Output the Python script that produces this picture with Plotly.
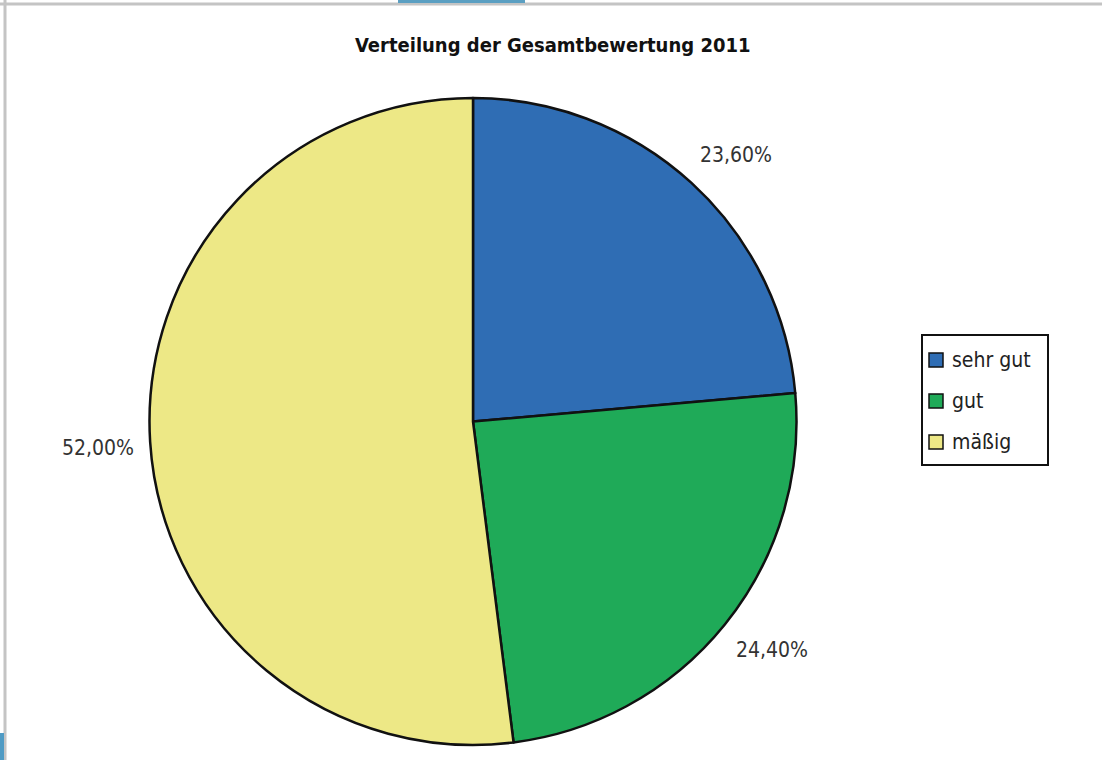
import plotly.graph_objects as go

categories = ["sehr gut", "gut", "mäßig"]
values = [23.6, 24.4, 52.0]
colors = ["#2f6db4", "#1faa58", "#ede886"]
title_text = "Verteilung der Gesamtbewertung 2011"

W, H = 1102, 760
cx, cy, r = 473, 421.5, 323.5
COND = "DejaVu Sans Condensed, Liberation Sans Narrow, sans-serif"


def px(x):
    return x / W


def py(y):
    return 1 - y / H


fig = go.Figure()
fig.add_trace(go.Pie(
    labels=categories,
    values=values,
    sort=False,
    direction="clockwise",
    rotation=0,
    marker=dict(colors=colors, line=dict(color="#111111", width=2.5)),
    textinfo="none",
    hoverinfo="label+percent",
    showlegend=False,
    domain=dict(x=[px(cx - r), px(cx + r)], y=[py(cy + r), py(cy - r)]),
))


def fmt(v):
    return f"{v:.2f}".replace(".", ",") + "%"


label_pos = [(736, 155), (772, 650), (98, 448)]
annotations = []
for v, (x, y) in zip(values, label_pos):
    annotations.append(dict(
        x=px(x), y=py(y), xref="paper", yref="paper",
        text=fmt(v), showarrow=False,
        font=dict(family=COND, size=21, color="#333333"),
        xanchor="center", yanchor="middle",
    ))
annotations.append(dict(
    x=px(552), y=py(45), xref="paper", yref="paper",
    text="<b>" + title_text + "</b>", showarrow=False,
    font=dict(family=COND, size=20, color="#111111"),
    xanchor="center", yanchor="middle",
))

shapes = [
    dict(type="line", xref="paper", yref="paper", x0=0, x1=1, y0=py(4), y1=py(4),
         line=dict(color="#c4c4c4", width=3)),
    dict(type="line", xref="paper", yref="paper", x0=px(5), x1=px(5), y0=0, y1=1,
         line=dict(color="#c4c4c4", width=3)),
    dict(type="rect", xref="paper", yref="paper", x0=px(398), x1=px(525), y0=py(3), y1=1,
         fillcolor="#5b9fc2", line=dict(width=0)),
    dict(type="rect", xref="paper", yref="paper", x0=0, x1=px(4), y0=0, y1=py(733),
         fillcolor="#4f9bc4", line=dict(width=0)),
    # legend box
    dict(type="rect", xref="paper", yref="paper", x0=px(922), x1=px(1048), y0=py(465), y1=py(335),
         fillcolor="white", line=dict(color="#111111", width=2)),
]

legend_y = [360, 401, 442]
for cat, col, y in zip(categories, colors, legend_y):
    shapes.append(dict(type="rect", xref="paper", yref="paper",
                       x0=px(929), x1=px(943), y0=py(y + 7), y1=py(y - 7),
                       fillcolor=col, line=dict(color="#111111", width=1.5)))
    annotations.append(dict(
        x=px(950), y=py(y), xref="paper", yref="paper",
        text=cat, showarrow=False,
        font=dict(family=COND, size=21, color="#222222"),
        xanchor="left", yanchor="middle",
    ))

fig.update_layout(
    width=W, height=H,
    margin=dict(l=0, r=0, t=0, b=0),
    paper_bgcolor="white", plot_bgcolor="white",
    showlegend=False,
    annotations=annotations,
    shapes=shapes,
)

fig.write_html("out.html", config={"displayModeBar": False},
               post_script="document.body.style.margin='0';document.body.style.overflow='hidden';")
